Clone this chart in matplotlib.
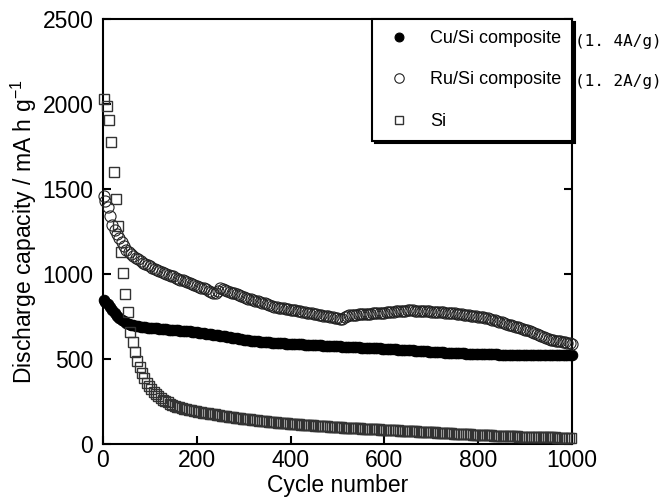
import numpy as np
import matplotlib
matplotlib.use('Agg')
import matplotlib.pyplot as plt

plt.rcParams['font.family'] = ['Liberation Sans', 'DejaVu Sans']

# cycle numbers of the sampled points
cyc = np.r_[2, np.arange(5, 1001, 5)]
cyc_si = np.arange(3, 1001, 5)

cu_si = [845, 835, 820, 805, 790, 772, 755, 742, 730, 720, 712, 705, 700, 697, 695, 692, 690, 688, 686, 684, 683,
         681, 680, 679, 678, 676, 675, 673, 672, 671, 670, 669, 668, 666, 665, 663, 662, 661, 660, 658, 656,
         654, 652, 650, 648, 646, 644, 642, 640, 638, 636, 634, 632, 630, 627, 625, 622, 620, 618, 615, 613,
         611, 609, 607, 606, 604, 603, 601, 600, 599, 598, 597, 596, 595, 594, 593, 592, 591, 590, 589, 588,
         588, 587, 586, 585, 585, 584, 583, 582, 581, 580, 580, 579, 579, 578, 577, 576, 576, 575, 574, 573,
         573, 572, 571, 570, 570, 569, 569, 568, 567, 566, 566, 565, 564, 563, 563, 562, 562, 561, 560, 559,
         558, 557, 557, 556, 555, 554, 553, 552, 552, 551, 550, 549, 548, 547, 547, 546, 545, 544, 543, 542,
         542, 541, 540, 539, 538, 537, 537, 536, 535, 535, 534, 533, 533, 532, 531, 531, 530, 530, 529, 529,
         528, 528, 527, 527, 527, 526, 526, 526, 525, 525, 525, 525, 524, 524, 524, 524, 523, 523, 523, 523,
         523, 523, 522, 522, 522, 522, 522, 522, 521, 521, 521, 521, 521, 521, 520, 520, 520, 520, 520, 520]

ru_si = [1460, 1430, 1395, 1340, 1290, 1260, 1235, 1212, 1190, 1165, 1140, 1127, 1115, 1105, 1095, 1085, 1075, 1067, 1060, 1052, 1045,
         1037, 1030, 1024, 1018, 1011, 1005, 1000, 995, 990, 985, 978, 972, 967, 962, 956, 950, 945, 940, 935, 930,
         925, 920, 915, 910, 902, 895, 890, 885, 900, 920, 912, 905, 900, 895, 890, 885, 880, 875, 870, 865,
         860, 855, 850, 845, 841, 838, 834, 830, 826, 822, 817, 812, 808, 805, 802, 800, 797, 795, 792, 790,
         787, 785, 782, 780, 777, 775, 772, 770, 767, 765, 762, 760, 757, 755, 752, 750, 747, 745, 742, 740,
         737, 735, 748, 755, 757, 758, 759, 760, 761, 762, 763, 764, 765, 766, 767, 768, 769, 770, 771, 772,
         773, 775, 776, 778, 779, 780, 781, 782, 783, 785, 785, 785, 784, 783, 783, 782, 781, 780, 779, 778,
         777, 776, 775, 774, 773, 772, 771, 770, 768, 767, 765, 764, 762, 760, 758, 757, 755, 753, 750, 748,
         747, 745, 741, 738, 734, 730, 726, 722, 718, 714, 710, 706, 702, 698, 694, 690, 685, 681, 676, 672,
         667, 662, 657, 652, 647, 642, 636, 630, 624, 618, 613, 608, 606, 604, 602, 600, 597, 595, 592, 590]

si = [2030, 1990, 1905, 1780, 1600, 1440, 1282, 1131, 1007, 880, 775, 660, 600, 540, 485, 450, 415, 385, 360, 340,
      322, 306, 292, 280, 270, 260, 251, 243, 236, 230, 224, 219, 214, 210, 206, 202, 199, 196, 193, 191,
      188, 186, 183, 181, 179, 177, 175, 172, 170, 168, 166, 164, 162, 160, 158, 156, 154, 152, 150, 148,
      146, 145, 143, 141, 139, 138, 136, 134, 132, 131, 130, 128, 127, 126, 124, 123, 122, 120, 119, 118,
      117, 116, 115, 114, 113, 112, 111, 110, 109, 108, 107, 106, 105, 104, 103, 102, 101, 100, 99, 98,
      97, 96, 95, 95, 94, 93, 92, 92, 91, 90, 89, 88, 88, 87, 86, 85, 85, 84, 83, 82,
      82, 81, 80, 79, 79, 78, 77, 76, 76, 75, 74, 73, 73, 72, 71, 70, 70, 69, 68, 67,
      67, 66, 65, 64, 64, 63, 62, 61, 61, 60, 59, 59, 58, 57, 56, 56, 55, 54, 54, 53,
      52, 52, 51, 50, 50, 49, 48, 48, 47, 46, 46, 45, 45, 44, 44, 43, 43, 42, 42, 41,
      41, 40, 40, 40, 39, 39, 39, 38, 38, 38, 37, 37, 37, 36, 36, 36, 36, 35, 35, 35]

labels = ['Cu/Si composite', 'Ru/Si composite', 'Si']
rates = ['(1. 4A/g)', '(1. 2A/g)']

fig = plt.figure(figsize=(6.64, 5.01), dpi=100)
ax = fig.add_axes([0.1551, 0.1144, 0.7063, 0.8471])

ax.plot(cyc, cu_si, 'o', ms=7.5, mfc='black', mec='black', mew=0.8,
        clip_on=False, label=labels[0], zorder=3)
ax.plot(cyc, ru_si, 'o', ms=8, mfc='none', mec='#222222', mew=0.8,
        clip_on=False, label=labels[1], zorder=4)
ax.plot(cyc_si, si, 's', ms=7.5, mfc='none', mec='#333333', mew=1.0,
        clip_on=False, label=labels[2], zorder=5)

ax.set_xlim(0, 1000)
ax.set_ylim(0, 2500)
ax.set_xticks([0, 200, 400, 600, 800, 1000])
ax.set_yticks([0, 500, 1000, 1500, 2000, 2500])

for s in ax.spines.values():
    s.set_linewidth(1.5)
ax.tick_params(axis='both', direction='in', length=6, width=1.5, labelsize=16.5)
ax.tick_params(axis='x', pad=4)
ax.tick_params(axis='y', pad=7, right=True)

ax.set_xlabel('Cycle number', fontsize=16.5, labelpad=1)
ax.set_ylabel('Discharge capacity / mA h g$^{\\mathregular{-1}}$', fontsize=16.5, labelpad=2)

leg = ax.legend(loc='upper right', bbox_to_anchor=(1, 1), borderaxespad=0,
                fontsize=13, labelspacing=1.35, handletextpad=0.8, borderpad=0.6,
                handlelength=1.8, fancybox=False, framealpha=1, edgecolor='black',
                markerscale=0.85, shadow={'color': 'black', 'alpha': 1})
leg.get_frame().set_linewidth(1.5)
leg.set_zorder(10)

fig.text(575 / 664, 1 - 41.7 / 501, rates[0], fontsize=11.5, va='center',
         family=['DejaVu Sans Mono'])
fig.text(575 / 664, 1 - 81.7 / 501, rates[1], fontsize=11.5, va='center',
         family=['DejaVu Sans Mono'])

fig.savefig('out.png', dpi=100)
